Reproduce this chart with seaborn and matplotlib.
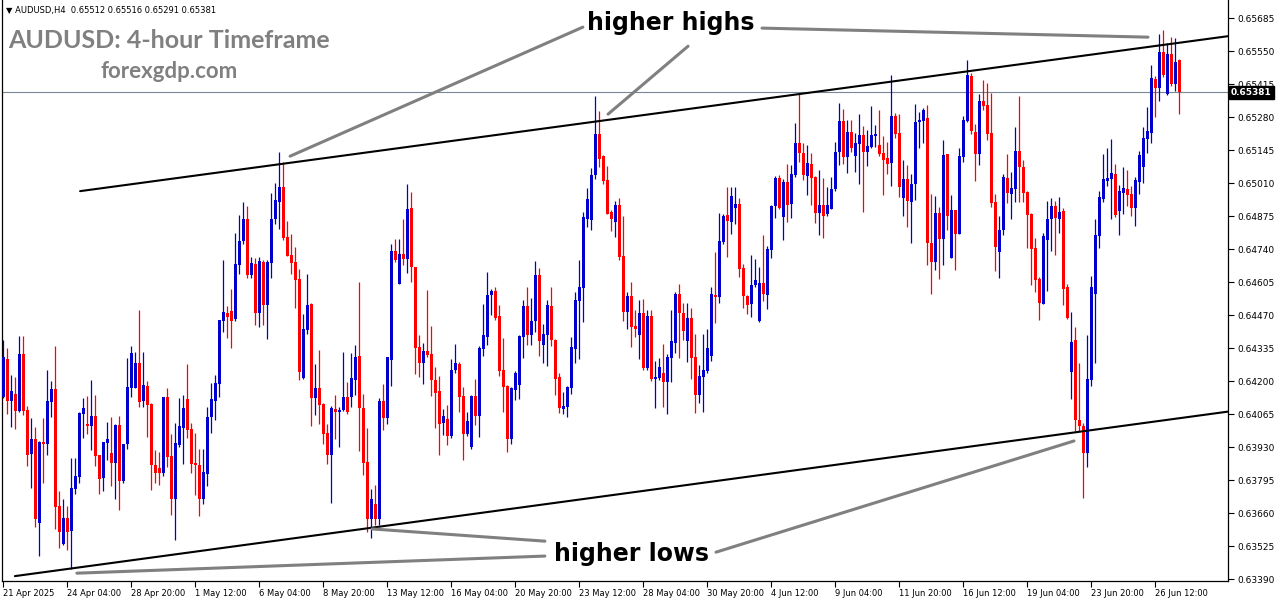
import numpy as np
import pandas as pd
import seaborn as sns
import matplotlib.pyplot as plt
import matplotlib.transforms as mtransforms

# AUDUSD H4 candles, 21 Apr 2025 12:00 -> 27 Jun 2025 12:00
opens = [
    0.64135, 0.64292, 0.64119, 0.64146, 0.64078, 0.64310, 0.64081, 0.63901, 0.63962, 0.63620,
    0.63949, 0.63942, 0.64115, 0.64167, 0.63688, 0.63533, 0.63638, 0.63587, 0.63758, 0.63808,
    0.64065, 0.64024, 0.64017, 0.64056, 0.63897, 0.63804, 0.63947, 0.63904, 0.63865, 0.64019,
    0.63790, 0.63942, 0.64172, 0.64172, 0.64275, 0.64119, 0.64179, 0.64108, 0.63856, 0.63846,
    0.63825, 0.64133, 0.63893, 0.63717, 0.63938, 0.64006, 0.64125, 0.64002, 0.63863, 0.63856,
    0.63717, 0.63819, 0.64054, 0.64119, 0.64190, 0.64447, 0.64479, 0.64486, 0.64453, 0.64674,
    0.64774, 0.64865, 0.64634, 0.64680, 0.64479, 0.64688, 0.64511, 0.64681, 0.64865, 0.64934,
    0.64992, 0.64788, 0.64714, 0.64687, 0.64616, 0.64213, 0.64408, 0.64515, 0.64132, 0.64170,
    0.64106, 0.63986, 0.63897, 0.64084, 0.64074, 0.64081, 0.64136, 0.64136, 0.64204, 0.64302,
    0.64091, 0.63867, 0.63635, 0.63699, 0.63635, 0.64119, 0.64050, 0.64286, 0.64732, 0.64597,
    0.64719, 0.64698, 0.64906, 0.64668, 0.64338, 0.64275, 0.64323, 0.64310, 0.64204, 0.64160,
    0.64027, 0.64043, 0.63974, 0.64244, 0.64269, 0.64138, 0.63982, 0.63931, 0.64138, 0.64056,
    0.64333, 0.64381, 0.64551, 0.64568, 0.64465, 0.64244, 0.64179, 0.63962, 0.64162, 0.64183,
    0.64381, 0.64506, 0.64388, 0.64446, 0.64633, 0.64349, 0.64388, 0.64506, 0.64367, 0.64217,
    0.64087, 0.64094, 0.64173, 0.64333, 0.64528, 0.64581, 0.64861, 0.64858, 0.65044, 0.65210,
    0.65120, 0.65022, 0.64892, 0.64851, 0.64919, 0.64711, 0.64483, 0.64547, 0.64424, 0.64388,
    0.64480, 0.64255, 0.64465, 0.64207, 0.64213, 0.64231, 0.64197, 0.64295, 0.64356, 0.64555,
    0.64480, 0.64364, 0.64460, 0.64299, 0.64145, 0.64217, 0.64240, 0.64302, 0.64554, 0.64544,
    0.64767, 0.64879, 0.64851, 0.64906, 0.64924, 0.64663, 0.64547, 0.64515, 0.64592, 0.64446,
    0.64602, 0.64551, 0.64736, 0.64916, 0.65032, 0.64872, 0.65015, 0.64924, 0.65043, 0.65175,
    0.65134, 0.65038, 0.65087, 0.65036, 0.64886, 0.64920, 0.64882, 0.64905, 0.64985, 0.65138,
    0.65263, 0.65118, 0.65220, 0.65120, 0.65169, 0.65206, 0.65138, 0.65158, 0.65202, 0.65165,
    0.65134, 0.65111, 0.65093, 0.65284, 0.65216, 0.64950, 0.65025, 0.64933, 0.65005, 0.65261,
    0.65265, 0.65277, 0.64766, 0.64688, 0.64886, 0.64781, 0.65128, 0.64704, 0.64899, 0.64801,
    0.65118, 0.65265, 0.65448, 0.65220, 0.65128, 0.65345, 0.65329, 0.65213, 0.64931, 0.64729,
    0.64817, 0.65032, 0.64965, 0.64985, 0.65141, 0.65077, 0.64974, 0.64883, 0.64745, 0.64617,
    0.64517, 0.64777, 0.64863, 0.64916, 0.64863, 0.64897, 0.64586, 0.64238, 0.64370, 0.64040,
    0.64016, 0.63904, 0.64204, 0.64556, 0.64793, 0.64945, 0.65018, 0.65025, 0.65047, 0.64895,
    0.64970, 0.64984, 0.64965, 0.64909, 0.65015, 0.65077, 0.65190, 0.65216, 0.65436, 0.65400,
    0.65545, 0.65374, 0.65538, 0.65415, 0.65512,
]
highs = [
    0.64370, 0.64336, 0.64224, 0.64215, 0.64384, 0.64384, 0.64100, 0.64048, 0.64013, 0.63955,
    0.64048, 0.64245, 0.64200, 0.64343, 0.63749, 0.63717, 0.63688, 0.63886, 0.63886, 0.64074,
    0.64129, 0.64138, 0.64204, 0.64142, 0.63897, 0.63950, 0.64033, 0.64054, 0.64024, 0.64056,
    0.63944, 0.64295, 0.64343, 0.64320, 0.64490, 0.64320, 0.64201, 0.64112, 0.63917, 0.63911,
    0.64133, 0.64170, 0.63982, 0.64027, 0.64129, 0.64145, 0.64269, 0.64029, 0.63988, 0.63922,
    0.63920, 0.64092, 0.64194, 0.64224, 0.64449, 0.64695, 0.64507, 0.64575, 0.64807, 0.64879,
    0.64931, 0.64916, 0.64706, 0.64702, 0.64706, 0.64695, 0.64695, 0.64970, 0.65009, 0.65138,
    0.65097, 0.64856, 0.64801, 0.64749, 0.64657, 0.64474, 0.64640, 0.64520, 0.64269, 0.64327,
    0.64111, 0.64024, 0.64097, 0.64142, 0.64095, 0.64320, 0.64197, 0.64316, 0.64347, 0.64606,
    0.64149, 0.64009, 0.63758, 0.63774, 0.64132, 0.64187, 0.64299, 0.64760, 0.64781, 0.64780,
    0.64865, 0.65006, 0.64974, 0.64668, 0.64388, 0.64357, 0.64572, 0.64425, 0.64258, 0.64220,
    0.64084, 0.64102, 0.64292, 0.64353, 0.64279, 0.64176, 0.64074, 0.64142, 0.64210, 0.64344,
    0.64514, 0.64647, 0.64578, 0.64585, 0.64510, 0.64377, 0.64183, 0.64176, 0.64242, 0.64388,
    0.64531, 0.64585, 0.64538, 0.64690, 0.64664, 0.64433, 0.64531, 0.64585, 0.64374, 0.64231,
    0.64156, 0.64179, 0.64381, 0.64565, 0.64694, 0.64892, 0.64990, 0.65072, 0.65367, 0.65306,
    0.65124, 0.65079, 0.64899, 0.64937, 0.64947, 0.64875, 0.64565, 0.64606, 0.64490, 0.64531,
    0.64535, 0.64490, 0.64490, 0.64281, 0.64295, 0.64353, 0.64310, 0.64490, 0.64565, 0.64596,
    0.64520, 0.64520, 0.64499, 0.64394, 0.64265, 0.64394, 0.64415, 0.64583, 0.64726, 0.64888,
    0.64885, 0.64995, 0.64992, 0.64992, 0.64947, 0.64677, 0.64551, 0.64715, 0.64701, 0.64667,
    0.64797, 0.64752, 0.64920, 0.65038, 0.65043, 0.65025, 0.65088, 0.65083, 0.65257, 0.65377,
    0.65172, 0.65165, 0.65134, 0.65038, 0.65063, 0.65032, 0.64995, 0.65036, 0.65179, 0.65338,
    0.65313, 0.65268, 0.65268, 0.65213, 0.65291, 0.65243, 0.65227, 0.65325, 0.65247, 0.65311,
    0.65202, 0.65178, 0.65452, 0.65298, 0.65292, 0.65104, 0.65083, 0.65047, 0.65333, 0.65302,
    0.65319, 0.65329, 0.64967, 0.64957, 0.64913, 0.65188, 0.65128, 0.64961, 0.64899, 0.65154,
    0.65284, 0.65513, 0.65461, 0.65251, 0.65373, 0.65431, 0.65420, 0.65379, 0.64967, 0.64875,
    0.65049, 0.65128, 0.65056, 0.65238, 0.65366, 0.65104, 0.64978, 0.64888, 0.64786, 0.64624,
    0.64804, 0.64937, 0.64947, 0.64936, 0.64954, 0.64906, 0.64599, 0.64481, 0.64422, 0.64272,
    0.64029, 0.64388, 0.64629, 0.64863, 0.64977, 0.65129, 0.65155, 0.65190, 0.65090, 0.65002,
    0.65077, 0.65063, 0.64999, 0.65033, 0.65141, 0.65238, 0.65320, 0.65493, 0.65448, 0.65620,
    0.65636, 0.65582, 0.65606, 0.65602, 0.65516,
]
lows = [
    0.64130, 0.64065, 0.64011, 0.64003, 0.64075, 0.64060, 0.63853, 0.63763, 0.63603, 0.63483,
    0.63784, 0.63897, 0.64054, 0.63593, 0.63515, 0.63528, 0.63508, 0.63433, 0.63737, 0.63784,
    0.63968, 0.63983, 0.63917, 0.63853, 0.63737, 0.63749, 0.63879, 0.63770, 0.63717, 0.63672,
    0.63781, 0.63921, 0.64135, 0.64172, 0.64092, 0.64095, 0.63972, 0.63754, 0.63781, 0.63774,
    0.63811, 0.63849, 0.63651, 0.63549, 0.63931, 0.63860, 0.63965, 0.63825, 0.63733, 0.63649,
    0.63696, 0.63770, 0.63988, 0.64040, 0.64136, 0.64402, 0.64377, 0.64336, 0.64447, 0.64638,
    0.64760, 0.64620, 0.64620, 0.64429, 0.64422, 0.64429, 0.64374, 0.64620, 0.64842, 0.64824,
    0.64779, 0.64711, 0.64638, 0.64500, 0.64204, 0.64210, 0.64392, 0.64016, 0.64061, 0.64024,
    0.63942, 0.63860, 0.63702, 0.63961, 0.63931, 0.64078, 0.64067, 0.64095, 0.64142, 0.63915,
    0.63815, 0.63583, 0.63559, 0.63610, 0.63610, 0.63999, 0.64024, 0.64179, 0.64688, 0.64597,
    0.64674, 0.64643, 0.64606, 0.64228, 0.64217, 0.64187, 0.64299, 0.64138, 0.64009, 0.63897,
    0.63979, 0.63938, 0.63967, 0.64231, 0.64074, 0.63879, 0.63974, 0.63920, 0.64019, 0.63972,
    0.64302, 0.64347, 0.64469, 0.64449, 0.64220, 0.64074, 0.63910, 0.63942, 0.64124, 0.64128,
    0.64295, 0.64347, 0.64347, 0.64401, 0.64302, 0.64274, 0.64262, 0.64344, 0.64142, 0.64071,
    0.64067, 0.64053, 0.64149, 0.64272, 0.64292, 0.64442, 0.64831, 0.64820, 0.65025, 0.65076,
    0.65008, 0.64883, 0.64814, 0.64790, 0.64694, 0.64446, 0.64415, 0.64340, 0.64381, 0.64292,
    0.64247, 0.64244, 0.64199, 0.64090, 0.64206, 0.64092, 0.64067, 0.64197, 0.64313, 0.64295,
    0.64367, 0.64278, 0.64210, 0.64070, 0.64111, 0.64074, 0.64235, 0.64283, 0.64438, 0.64520,
    0.64759, 0.64708, 0.64801, 0.64842, 0.64626, 0.64499, 0.64476, 0.64463, 0.64583, 0.64442,
    0.64528, 0.64494, 0.64704, 0.64869, 0.64902, 0.64777, 0.64852, 0.64868, 0.65036, 0.65097,
    0.65022, 0.64961, 0.64920, 0.64847, 0.64797, 0.64786, 0.64875, 0.64903, 0.64978, 0.65083,
    0.65090, 0.65052, 0.65138, 0.65056, 0.65006, 0.64892, 0.65079, 0.65152, 0.65158, 0.65120,
    0.64961, 0.65047, 0.64997, 0.65193, 0.64951, 0.64875, 0.64831, 0.64766, 0.64940, 0.65154,
    0.65172, 0.64674, 0.64556, 0.64654, 0.64617, 0.64674, 0.64817, 0.64702, 0.64654, 0.64801,
    0.65097, 0.65261, 0.65210, 0.65019, 0.65083, 0.65308, 0.65188, 0.64913, 0.64651, 0.64622,
    0.64797, 0.64929, 0.64862, 0.64933, 0.64933, 0.64933, 0.64745, 0.64592, 0.64565, 0.64449,
    0.64515, 0.64569, 0.64733, 0.64715, 0.64807, 0.64511, 0.64455, 0.64125, 0.63997, 0.63997,
    0.63720, 0.63847, 0.64181, 0.64275, 0.64745, 0.64934, 0.64998, 0.64863, 0.64872, 0.64797,
    0.64883, 0.64916, 0.64876, 0.64835, 0.64965, 0.65011, 0.65135, 0.65175, 0.65281, 0.65347,
    0.65442, 0.65370, 0.65407, 0.65388, 0.65291,
]
closes = [
    0.64299, 0.64119, 0.64159, 0.64078, 0.64310, 0.64078, 0.63897, 0.63962, 0.63635, 0.63951,
    0.63942, 0.64118, 0.64167, 0.63685, 0.63583, 0.63640, 0.63583, 0.63764, 0.63811, 0.64070,
    0.64090, 0.64017, 0.64056, 0.63894, 0.63799, 0.63950, 0.63962, 0.63865, 0.64019, 0.63792,
    0.63944, 0.64174, 0.64315, 0.64275, 0.64115, 0.64183, 0.64101, 0.63856, 0.63825, 0.63825,
    0.64133, 0.63890, 0.63717, 0.63945, 0.64016, 0.64088, 0.64000, 0.63860, 0.63856, 0.63717,
    0.63826, 0.64051, 0.64125, 0.64194, 0.64449, 0.64481, 0.64463, 0.64447, 0.64680, 0.64774,
    0.64865, 0.64634, 0.64681, 0.64479, 0.64691, 0.64513, 0.64687, 0.64865, 0.64940, 0.64992,
    0.64786, 0.64711, 0.64684, 0.64613, 0.64238, 0.64413, 0.64511, 0.64132, 0.64170, 0.64102,
    0.63983, 0.63897, 0.64088, 0.64074, 0.64081, 0.64133, 0.64074, 0.64211, 0.64297, 0.64091,
    0.63866, 0.63635, 0.63716, 0.63635, 0.64119, 0.64050, 0.64297, 0.64732, 0.64695, 0.64719,
    0.64698, 0.64902, 0.64665, 0.64336, 0.64275, 0.64323, 0.64306, 0.64204, 0.64152, 0.64024,
    0.64057, 0.63975, 0.64247, 0.64272, 0.64135, 0.63982, 0.64037, 0.64138, 0.64056, 0.64336,
    0.64388, 0.64551, 0.64568, 0.64456, 0.64242, 0.64176, 0.63962, 0.64172, 0.64233, 0.64383,
    0.64506, 0.64388, 0.64446, 0.64633, 0.64363, 0.64392, 0.64510, 0.64367, 0.64210, 0.64090,
    0.64097, 0.64176, 0.64340, 0.64531, 0.64585, 0.64872, 0.64944, 0.65045, 0.65210, 0.65110,
    0.65019, 0.64885, 0.64865, 0.64919, 0.64708, 0.64483, 0.64547, 0.64422, 0.64411, 0.64480,
    0.64255, 0.64465, 0.64207, 0.64217, 0.64258, 0.64197, 0.64299, 0.64363, 0.64555, 0.64479,
    0.64405, 0.64458, 0.64295, 0.64142, 0.64220, 0.64244, 0.64336, 0.64558, 0.64544, 0.64772,
    0.64874, 0.64854, 0.64956, 0.64924, 0.64658, 0.64547, 0.64513, 0.64592, 0.64613, 0.64603,
    0.64556, 0.64740, 0.64916, 0.65032, 0.64909, 0.65015, 0.64920, 0.65047, 0.65175, 0.65134,
    0.65043, 0.65093, 0.65032, 0.64888, 0.64920, 0.64876, 0.64920, 0.64985, 0.65138, 0.65263,
    0.65118, 0.65220, 0.65152, 0.65172, 0.65206, 0.65138, 0.65161, 0.65206, 0.65210, 0.65128,
    0.65104, 0.65088, 0.65284, 0.65210, 0.64995, 0.65025, 0.64937, 0.65008, 0.65261, 0.65268,
    0.65311, 0.64766, 0.64688, 0.64886, 0.64781, 0.65124, 0.64876, 0.64899, 0.64801, 0.65120,
    0.65268, 0.65452, 0.65224, 0.65128, 0.65345, 0.65325, 0.65210, 0.64927, 0.64749, 0.64817,
    0.65036, 0.64970, 0.64988, 0.65141, 0.65077, 0.64970, 0.64879, 0.64740, 0.64613, 0.64520,
    0.64793, 0.64865, 0.64916, 0.64868, 0.64893, 0.64576, 0.64459, 0.64361, 0.64040, 0.64016,
    0.63904, 0.64208, 0.64586, 0.64797, 0.64954, 0.65025, 0.65029, 0.65050, 0.64879, 0.64977,
    0.64988, 0.64961, 0.64909, 0.65022, 0.65125, 0.65196, 0.65223, 0.65438, 0.65400, 0.65545,
    0.65452, 0.65538, 0.65414, 0.65504, 0.65381,
]

date_labels = ["21 Apr 2025", "24 Apr 04:00", "28 Apr 20:00", "1 May 12:00", "6 May 04:00",
               "8 May 20:00", "13 May 12:00", "16 May 04:00", "20 May 20:00", "23 May 12:00",
               "28 May 04:00", "30 May 20:00", "4 Jun 12:00", "9 Jun 04:00", "11 Jun 20:00",
               "16 Jun 12:00", "19 Jun 04:00", "23 Jun 20:00", "26 Jun 12:00"]
date_tick_bars = [0, 16, 32, 48, 64, 80, 96, 112, 128, 144, 160, 176, 192, 208, 224, 240, 256, 272, 288]
price_ticks = [0.63390, 0.63525, 0.63660, 0.63795, 0.63930, 0.64065, 0.64200, 0.64335, 0.64470,
               0.64605, 0.64740, 0.64875, 0.65010, 0.65145, 0.65280, 0.65415, 0.65550, 0.65685]
last_price = 0.65381

# channel lines (bar index, price)
upper_x = [19.2, 306.2]
upper_y = [0.64977, 0.65611]
lower_x = [2.9, 306.2]
lower_y = [0.63402, 0.64075]

# grey pointer lines for the annotations (bar index, price)
pointers = [
    ([71.7, 144.9], [0.65120, 0.65648]),
    ([151.2, 171.2], [0.65292, 0.65570]),
    ([189.7, 286.2], [0.65644, 0.65607]),
    ([18.4, 135.4], [0.63414, 0.63484]),
    ([92.2, 135.4], [0.63595, 0.63545]),
    ([178.2, 267.7], [0.63500, 0.63955]),
]

df = pd.DataFrame({"open": opens, "high": highs, "low": lows, "close": closes})
df["bar"] = np.arange(len(df))
df["up"] = df["close"] >= df["open"]
df["body_lo"] = df[["open", "close"]].min(axis=1)
df["body_h"] = (df["close"] - df["open"]).abs().clip(lower=0.00004)

sns.set_theme(style="white")
plt.rcParams["font.family"] = ["DejaVu Sans"]

W, H = 1276, 604
fig = plt.figure(figsize=(W / 100, H / 100), dpi=100)
ax = fig.add_axes([2 / W, 23 / H, 1226 / W, 581 / H])

blue, red = "#0000CC", "#FF0000"
cols = np.where(df["up"], blue, red)

ax.axhline(last_price, color="#778899", lw=0.8, zorder=1)
ax.vlines(df["bar"], df["low"], df["high"], colors=cols, lw=0.9, zorder=2)
ax.bar(df["bar"], df["body_h"], bottom=df["body_lo"], width=0.75, color=cols, linewidth=0, zorder=3)

sns.lineplot(x=upper_x, y=upper_y, ax=ax, color="black", lw=1.5, zorder=4)
sns.lineplot(x=lower_x, y=lower_y, ax=ax, color="black", lw=1.5, zorder=4)
for px, py in pointers:
    sns.lineplot(x=px, y=py, ax=ax, color="#808080", lw=2.2, zorder=5)

ax.set_xlim(-0.33, 306.2)
ax.set_ylim(0.63382, 0.65759)

for s in ["left", "right", "bottom"]:
    ax.spines[s].set_color("black")
    ax.spines[s].set_linewidth(0.9)
ax.spines["top"].set_visible(False)

ax.yaxis.tick_right()
ax.set_yticks(price_ticks)
ax.set_yticklabels([f"{p:.5f}" for p in price_ticks], fontsize=6.5)
ax.tick_params(axis="y", direction="out", length=4, width=0.8, pad=3, colors="black", right=True, left=False)

ax.set_xticks(date_tick_bars)
ax.set_xticklabels(date_labels, fontsize=6, ha="left")
ax.tick_params(axis="x", direction="out", length=4, width=0.8, pad=2, colors="black", bottom=True)
ax.set_xlabel("")
ax.set_ylabel("")

# current price tag on the axis
trans = mtransforms.blended_transform_factory(ax.transAxes, ax.transData)
ax.text(1.0025, last_price, "0.65381", transform=trans, ha="left", va="center", fontsize=6.5,
        color="white", fontweight="bold", clip_on=False, zorder=10,
        bbox=dict(boxstyle="square,pad=0.25", fc="black", ec="black"))

fig.text(6 / W, 1 - 10 / H, "\u25bc AUDUSD,H4  0.65512 0.65516 0.65291 0.65381", fontsize=6,
         va="center", ha="left", color="black")
fig.text(8 / W, 1 - 40 / H, "AUDUSD: 4-hour Timeframe", family=["Lato", "DejaVu Sans"],
         fontweight="bold", fontsize=18, color="#808080", va="center", ha="left")
fig.text(169 / W, 1 - 72 / H, "forexgdp.com", family=["Lato", "DejaVu Sans"],
         fontweight="bold", fontsize=16, color="#808080", va="center", ha="center")

fig.text(671 / W, 1 - 23 / H, "higher highs", fontsize=17, fontweight="bold", color="black",
         va="center", ha="center")
fig.text(632 / W, 1 - 554 / H, "higher lows", fontsize=17, fontweight="bold", color="black",
         va="center", ha="center")

fig.savefig("out.png", dpi=100, facecolor="white")
